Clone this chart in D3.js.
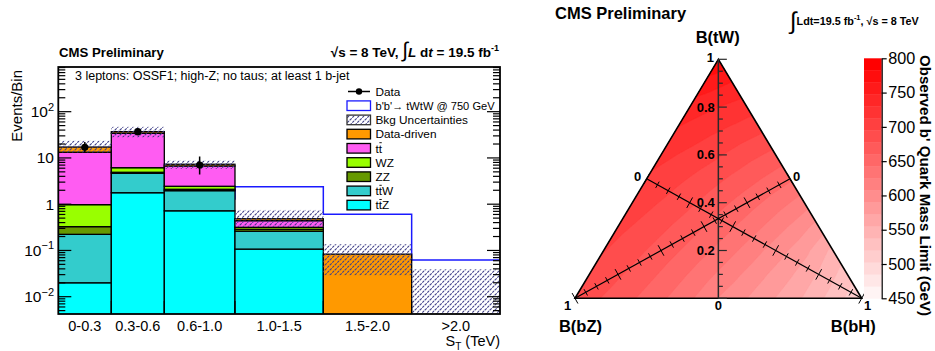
<!DOCTYPE html>
<html><head><meta charset="utf-8">
<script src="https://cdn.jsdelivr.net/npm/d3@7"></script>
<style>
html,body{margin:0;padding:0;background:#fff;}
svg{display:block;font-family:"Liberation Sans",Arial,Helvetica,sans-serif;}
</style></head><body>
<svg id="chart" width="935" height="351"></svg>
<script>
// ---------- S_T distribution (left panel) ----------
const binEdges = [0, 0.3, 0.6, 1.0, 1.5, 2.0, 2.5];          // TeV
const binLabels = ["0-0.3", "0.3-0.6", "0.6-1.0", "1.0-1.5", "1.5-2.0", ">2.0"];
const yTickValues = [0.01, 0.1, 1, 10, 100];

// background components per bin, stacked bottom to top
const ttZ        = [0.020, 1.77, 0.72, 0.107, 0, 0];
const ttW        = [0.203, 2.89, 1.24, 0.153, 0, 0];
const ZZ         = [0.104, 0.24, 0.14, 0.027, 0, 0];
const WZ         = [0.65, 1.25, 0.34, 0.029, 0, 0];
const ttbar      = [12.3, 27.9, 4.26, 0.124, 0, 0];
const dataDriven = [3.9, 3.0, 0.6, 0.045, 0.083, 0];

// total background uncertainty band (lower / upper edge)
const bkgUncLo = [13.1, 28, 5.8, 0.32, 0.029, 0];
const bkgUncHi = [23.6, 47, 8.8, 0.75, 0.136, 0.039];

// b'b' -> tWtW signal, m = 750 GeV
const signal = [0.05, 0.4, 1.3, 2.39, 0.605, 0.062];

// observed events
const dataObs   = [17, 37, 7, 0, 0, 0];
const dataErrLo = [4.1, 6.0, 2.6, 0, 0, 0];
const dataErrHi = [5.2, 7.1, 3.8, 0, 0, 0];

// ---------- mass-limit ternary map (right panel) ----------
// rows: B(tW) = 0.0, 0.1, ..., 1.0 ; entries: B(bH) = 0.0, 0.1, ... up to 1 - B(tW)
const massLimit = [
  [688, 676, 662, 646, 628, 607, 590, 572, 553, 530, 505],
  [692, 680, 666, 650, 632, 613, 594, 575, 553, 528],
  [696, 684, 670, 655, 638, 619, 599, 578, 550],
  [700, 689, 675, 660, 644, 626, 606, 583],
  [705, 694, 681, 666, 651, 634, 616],
  [710, 700, 688, 674, 660, 645],
  [718, 708, 697, 684, 672],
  [728, 718, 708, 697],
  [740, 730, 721],
  [758, 746],
  [782]
];
const paletteTicks = [450, 500, 550, 600, 650, 700, 750, 800];
const ternaryTicks = [0.2, 0.4, 0.6, 0.8];

const svg = d3.select("#chart");
const defs = svg.append("defs");

// ===================== left panel =====================
const L = {x0: 58.3, x1: 500, y0: 67, y1: 314};
const x = d3.scaleLinear().domain([0, 2.5]).range([L.x0, L.x1]);
const y = d3.scaleLog().domain([Math.pow(10, -2.374), Math.pow(10, 2.966)]).range([L.y1, L.y0]);
const yv = v => v > 0 ? y(v) : L.y1 + 5;

defs.append("clipPath").attr("id", "clipL").append("rect")
  .attr("x", L.x0).attr("y", L.y0).attr("width", L.x1 - L.x0).attr("height", L.y1 - L.y0);

const hatch = defs.append("pattern").attr("id", "hatch")
  .attr("patternUnits", "userSpaceOnUse").attr("width", 5).attr("height", 5);
hatch.append("path").attr("d", "M0,5 L5,0 M-1.25,1.25 L1.25,-1.25 M3.75,6.25 L6.25,3.75")
  .attr("stroke", "#3f3f88").attr("stroke-width", 1.1).attr("stroke-dasharray", "2.4,0.9");

const fills = {
  ttZ: "#00ffff", ttW: "#33cccc", ZZ: "#669900", WZ: "#99ff00", ttbar: "#ff5cf2", dd: "#ff9900"
};
const stack = [
  {key: "ttZ", values: ttZ}, {key: "ttW", values: ttW}, {key: "ZZ", values: ZZ},
  {key: "WZ", values: WZ}, {key: "ttbar", values: ttbar}, {key: "dd", values: dataDriven}
];

const plot = svg.append("g").attr("clip-path", "url(#clipL)");

// signal histogram (behind the stack)
const sigPts = [];
signal.forEach((v, i) => { sigPts.push([x(binEdges[i]), y(v)], [x(binEdges[i + 1]), y(v)]); });
plot.append("path").attr("d", d3.line()(sigPts))
  .attr("fill", "none").attr("stroke", "#1a1aff").attr("stroke-width", 1.5);

// stacked backgrounds
binEdges.slice(0, -1).forEach((e, i) => {
  let base = 0;
  stack.forEach(s => {
    const v = s.values[i];
    if (v <= 0) return;
    const top = base + v;
    plot.append("rect")
      .attr("x", x(e)).attr("width", x(binEdges[i + 1]) - x(e))
      .attr("y", y(top)).attr("height", yv(base) - y(top))
      .attr("fill", fills[s.key]).attr("stroke", "#000").attr("stroke-width", 1.3);
    base = top;
  });
});

// background uncertainty band
binEdges.slice(0, -1).forEach((e, i) => {
  plot.append("rect")
    .attr("x", x(e)).attr("width", x(binEdges[i + 1]) - x(e))
    .attr("y", y(bkgUncHi[i])).attr("height", yv(bkgUncLo[i]) - y(bkgUncHi[i]))
    .attr("fill", "url(#hatch)");
});

// data points
dataObs.forEach((n, i) => {
  if (n <= 0) return;
  const cx = x((binEdges[i] + binEdges[i + 1]) / 2);
  plot.append("line").attr("x1", cx).attr("x2", cx)
    .attr("y1", y(n - dataErrLo[i])).attr("y2", y(n + dataErrHi[i]))
    .attr("stroke", "#000").attr("stroke-width", 1.5);
  plot.append("circle").attr("cx", cx).attr("cy", y(n)).attr("r", 3.6).attr("fill", "#000");
});

// frame + ticks
const axL = svg.append("g").attr("stroke", "#000").attr("stroke-width", 1.2);
const minorY = [];
for (let e = -3; e <= 2; e++) for (let k = 2; k <= 9; k++) {
  const v = k * Math.pow(10, e);
  if (v > y.domain()[0] && v < y.domain()[1]) minorY.push(v);
}
minorY.forEach(v => {
  axL.append("line").attr("x1", L.x0).attr("x2", L.x0 + 7).attr("y1", y(v)).attr("y2", y(v));
  axL.append("line").attr("x1", L.x1).attr("x2", L.x1 - 7).attr("y1", y(v)).attr("y2", y(v));
});
yTickValues.forEach(v => {
  axL.append("line").attr("x1", L.x0).attr("x2", L.x0 + 13).attr("y1", y(v)).attr("y2", y(v));
  axL.append("line").attr("x1", L.x1).attr("x2", L.x1 - 13).attr("y1", y(v)).attr("y2", y(v));
});
binEdges.slice(1, -1).forEach(e => {
  axL.append("line").attr("x1", x(e)).attr("x2", x(e)).attr("y1", L.y1).attr("y2", L.y1 - 13);
});
svg.append("rect").attr("x", L.x0).attr("y", L.y0).attr("width", L.x1 - L.x0).attr("height", L.y1 - L.y0)
  .attr("fill", "none").attr("stroke", "#000").attr("stroke-width", 1.8);

// y tick labels
yTickValues.forEach(v => {
  const e = Math.round(Math.log10(v));
  const t = svg.append("text").attr("x", 54).attr("y", y(v) + 5.5)
    .attr("text-anchor", "end").attr("font-size", 15.5);
  if (e === 0) t.text("1");
  else if (e === 1) t.text("10");
  else {
    t.append("tspan").text("10");
    t.append("tspan").attr("dy", -6.5).attr("font-size", 11).text(String(e).replace("-", "\u2212"));
  }
});
svg.append("text").attr("transform", "translate(21.5,70) rotate(-90)")
  .attr("text-anchor", "end").attr("font-size", 15).text("Events/Bin");

// x bin labels
binLabels.forEach((lab, i) => {
  svg.append("text").attr("x", x((binEdges[i] + binEdges[i + 1]) / 2)).attr("y", 330.5)
    .attr("text-anchor", "middle").attr("font-size", 14.5).text(lab);
});
const xt = svg.append("text").attr("x", 500).attr("y", 346).attr("text-anchor", "end").attr("font-size", 14.5);
xt.append("tspan").text("S");
xt.append("tspan").attr("dy", 3.5).attr("font-size", 10).text("T");
xt.append("tspan").attr("dy", -3.5).text(" (TeV)");

// headers
svg.append("text").attr("x", 59).attr("y", 56.5).attr("font-weight", "bold").attr("font-size", 13.2)
  .text("CMS Preliminary");
const lumiL = svg.append("text").attr("x", 499).attr("y", 56.5).attr("text-anchor", "end")
  .attr("font-weight", "bold").attr("font-size", 13.5);
lumiL.append("tspan").text("\u221As = 8 TeV, ");
lumiL.append("tspan").attr("font-size", 21).attr("font-weight", "normal").text("\u222B");
lumiL.append("tspan").attr("font-style", "italic").text("L");
lumiL.append("tspan").text(" d");
lumiL.append("tspan").attr("font-style", "italic").text("t");
lumiL.append("tspan").text(" = 19.5 fb");
lumiL.append("tspan").attr("dy", -6).attr("font-size", 9).text("-1");

svg.append("text").attr("x", 75).attr("y", 80).attr("font-size", 12.5)
  .text("3 leptons: OSSF1; high-Z; no taus; at least 1 b-jet");

// legend ("bar" marks the antiquark t)
const legendItems = [
  {label: "Data", kind: "data"},
  {label: "b'b'\u2192 tWtW @ 750 GeV", kind: "signal"},
  {label: "Bkg Uncertainties", kind: "unc"},
  {label: "Data-driven", kind: "dd"},
  {label: "tt", kind: "ttbar", bar: 1},
  {label: "WZ", kind: "WZ"},
  {label: "ZZ", kind: "ZZ"},
  {label: "ttW", kind: "ttW", bar: 1},
  {label: "ttZ", kind: "ttZ", bar: 1}
];
const lg = svg.append("g");
legendItems.forEach((it, i) => {
  const cy = 91.5 + i * 14.2;
  if (it.kind === "data") {
    lg.append("line").attr("x1", 348).attr("x2", 370).attr("y1", cy).attr("y2", cy)
      .attr("stroke", "#000").attr("stroke-width", 1.5);
    lg.append("circle").attr("cx", 359).attr("cy", cy).attr("r", 3.2).attr("fill", "#000");
  } else {
    const fill = it.kind === "signal" ? "#fff" : it.kind === "unc" ? "url(#hatch)" : fills[it.kind];
    const stroke = it.kind === "signal" ? "#1a1aff" : it.kind === "unc" ? "#333" : "#000";
    lg.append("rect").attr("x", 347).attr("y", cy - 4.8).attr("width", 23.5).attr("height", 9.6)
      .attr("fill", fill).attr("stroke", stroke).attr("stroke-width", 1.3);
  }
  const fs = it.kind === "signal" ? 11.1 : 11.8;
  const t = lg.append("text").attr("x", 375.5).attr("y", cy + 4.2).attr("font-size", fs).text(it.label);
  if (it.bar !== undefined) {
    const ext = t.node().getExtentOfChar(it.bar);
    lg.append("line").attr("x1", ext.x + 0.6).attr("x2", ext.x + ext.width - 0.3)
      .attr("y1", cy - 5.6).attr("y2", cy - 5.6).attr("stroke", "#000").attr("stroke-width", 0.9);
  }
});

// ===================== right panel: ternary map =====================
const tY = d3.scaleLinear().domain([0, 1]).range([298.3, 59.3]);   // B(tW) height
const tX = d3.scaleLinear().domain([0, 1]).range([575, 861.7]);    // base position
// pixel position for (B(tW)=a, B(bH)=h); B(bZ) = 1 - a - h
const tern = (a, h) => [tX(a / 2 + h), tY(a)];

function limitAt(a, h) {
  a = Math.max(0, Math.min(1, a));
  h = Math.max(0, Math.min(1 - a, h));
  let u = a * 10, w = h * 10;
  if (u + w > 10 - 1e-9) { const s = (10 - 1e-9) / (u + w); u *= s; w *= s; }
  const i = Math.floor(u), j = Math.floor(w), fu = u - i, fw = w - j;
  const V = (p, q) => massLimit[p][q];
  if (fu + fw <= 1) return V(i, j) * (1 - fu - fw) + V(i + 1, j) * fu + V(i, j + 1) * fw;
  return V(i + 1, j + 1) * (fu + fw - 1) + V(i + 1, j) * (1 - fw) + V(i, j + 1) * (1 - fu);
}

const gx0 = 570, gy0 = 54, gw = 298, gh = 250;
const grid = new Float64Array(gw * gh);
for (let j = 0; j < gh; j++) for (let i = 0; i < gw; i++) {
  const px = gx0 + i + 0.5, py = gy0 + j + 0.5;
  const a = tY.invert(py);
  const h = tX.invert(px) - a / 2;
  grid[j * gw + i] = limitAt(a, h);
}
const nLevels = 20;
const levels = d3.range(nLevels).map(k => 450 + k * 350 / nLevels);
const bandColor = k => d3.interpolateRgb("#fff4f4", "#ff0000")(k / (nLevels - 1));

const triPts = [tern(1, 0), tern(0, 0), tern(0, 1)];
defs.append("clipPath").attr("id", "clipT").append("path").attr("d", "M" + triPts.join("L") + "Z");

const contours = d3.contours().size([gw, gh]).thresholds(levels)(grid);
const cpath = d3.geoPath(d3.geoIdentity().translate([gx0, gy0]));
const tg = svg.append("g").attr("clip-path", "url(#clipT)");
contours.forEach(c => {
  const k = Math.round((c.value - 450) / (350 / nLevels));
  tg.append("path").attr("d", cpath(c)).attr("fill", bandColor(k))
    .attr("stroke", bandColor(k)).attr("stroke-width", 0.3);
});
svg.append("path").attr("d", "M" + triPts.join("L") + "Z")
  .attr("fill", "none").attr("stroke", "#000").attr("stroke-width", 1.6);

// B(tW) axis (vertical)
const ax = svg.append("g").attr("stroke", "#2a2a2a");
ax.append("line").attr("x1", tern(0, 0.5)[0]).attr("x2", tern(1, 0)[0])
  .attr("y1", tY(0)).attr("y2", tY(1)).attr("stroke-width", 1.5);
d3.range(0, 1.0001, 0.05).forEach((v, n) => {
  const len = n % 4 === 0 ? 8.5 : 4.5;
  ax.append("line").attr("x1", tern(1, 0)[0]).attr("x2", tern(1, 0)[0] + len)
    .attr("y1", tY(v)).attr("y2", tY(v)).attr("stroke-width", 1.2);
});
const tlab = svg.append("g").attr("font-weight", "bold").attr("font-size", 13);
ternaryTicks.forEach(v => {
  tlab.append("text").attr("x", tern(1, 0)[0] - 3.5).attr("y", tY(v) + 4.5)
    .attr("text-anchor", "end").text(v.toFixed(1));
});
tlab.append("text").attr("x", tern(1, 0)[0] - 8).attr("y", tY(1) + 2.5).attr("text-anchor", "middle").text("1");
tlab.append("text").attr("x", tern(0, 0.5)[0]).attr("y", tY(0) + 11.5).attr("text-anchor", "middle").text("0");

// diagonal axes: B(bZ) from bottom-left corner, B(bH) from bottom-right corner
function diagAxis(at) {
  const p0 = at(1), p1 = at(0);
  const dx = p1[0] - p0[0], dy = p1[1] - p0[1], len = Math.hypot(dx, dy);
  const nx = -dy / len, ny = dx / len;
  ax.append("line").attr("x1", p0[0]).attr("y1", p0[1]).attr("x2", p1[0]).attr("y2", p1[1])
    .attr("stroke", "#000").attr("stroke-width", 1.2);
  d3.range(0, 1.0001, 0.05).forEach((v, n) => {
    const p = at(v), hl = n % 4 === 0 ? 6 : 3.6;
    ax.append("line").attr("x1", p[0] - nx * hl).attr("y1", p[1] - ny * hl)
      .attr("x2", p[0] + nx * hl).attr("y2", p[1] + ny * hl)
      .attr("stroke", "#000").attr("stroke-width", 1);
  });
}
diagAxis(b => tern((1 - b) / 2, (1 - b) / 2));   // B(bZ)
diagAxis(h => tern((1 - h) / 2, h));             // B(bH)

const bl = tern(0, 0), br = tern(0, 1), lm = tern(0.5, 0), rm = tern(0.5, 0.5);
tlab.append("text").attr("x", bl[0] - 7.5).attr("y", bl[1] + 11.5).attr("text-anchor", "middle").text("1");
tlab.append("text").attr("x", br[0] + 6).attr("y", br[1] + 11.5).attr("text-anchor", "middle").text("1");
tlab.append("text").attr("x", lm[0] - 9).attr("y", lm[1] + 2.5).attr("text-anchor", "middle").text("0");
tlab.append("text").attr("x", rm[0] + 6.5).attr("y", rm[1] + 2.5).attr("text-anchor", "middle").text("0");

const vlab = svg.append("g").attr("font-weight", "bold").attr("font-size", 16.5).attr("text-anchor", "middle");
vlab.append("text").attr("x", 717.7).attr("y", 43.3).text("B(tW)");
vlab.append("text").attr("x", 580.5).attr("y", 331.7).text("B(bZ)");
vlab.append("text").attr("x", 853.3).attr("y", 331.7).text("B(bH)");

// colour palette
const cb = d3.scaleLinear().domain([450, 800]).range([298.3, 58.3]);
levels.forEach((lv, k) => {
  const top = lv + 350 / nLevels;
  svg.append("rect").attr("x", 864).attr("width", 17.7)
    .attr("y", cb(top)).attr("height", cb(lv) - cb(top) + 0.4).attr("fill", bandColor(k));
});
const cbAxis = svg.append("g").attr("transform", "translate(881.7,0)")
  .call(d3.axisRight(cb).tickValues(paletteTicks).tickSize(5).tickSizeOuter(0).tickPadding(1.5)
    .tickFormat(d3.format("d")));
cbAxis.select(".domain").attr("stroke", "#000").attr("stroke-width", 1.2);
cbAxis.selectAll(".tick line").attr("stroke", "#000").attr("stroke-width", 1.2);
cbAxis.selectAll(".tick text").attr("font-size", 16.2).attr("fill", "#000")
  .attr("font-family", "Liberation Sans, Arial, sans-serif");

svg.append("text").attr("transform", "translate(919.5,55) rotate(90)")
  .attr("font-weight", "bold").attr("font-size", 15.1).text("Observed b' Quark Mass Limit (GeV)");

// right headers
svg.append("text").attr("x", 555).attr("y", 18.5).attr("font-weight", "bold").attr("font-size", 16.5)
  .text("CMS Preliminary");
const lumiR = svg.append("text").attr("x", 790).attr("y", 25).attr("font-weight", "bold").attr("font-size", 10.8);
lumiR.append("tspan").attr("font-size", 24).attr("font-weight", "normal").attr("dy", 4).text("\u222B");
lumiR.append("tspan").attr("dy", -4).text("Ldt=19.5 fb");
lumiR.append("tspan").attr("dy", -5).attr("font-size", 7.5).text("-1");
lumiR.append("tspan").attr("dy", 5).text(", \u221As = 8 TeV");
</script>
</body></html>
